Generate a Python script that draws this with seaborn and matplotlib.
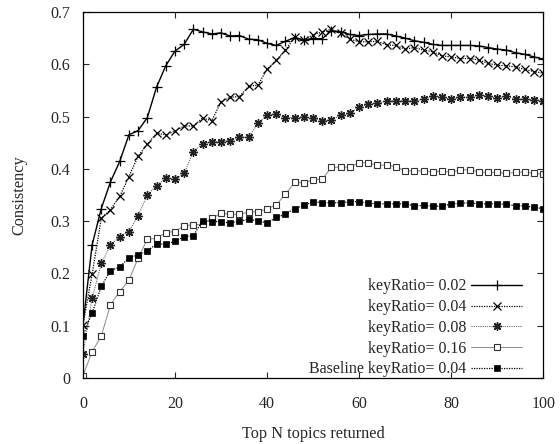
import pandas as pd
import seaborn as sns
import matplotlib
matplotlib.use("Agg")
import matplotlib.pyplot as plt

# Top N topics returned
top_n = [0, 2, 4, 6, 8, 10, 12, 14, 16, 18, 20, 22, 24, 26, 28, 30, 32, 34, 36, 38,
         40, 42, 44, 46, 48, 50, 52, 54, 56, 58, 60, 62, 64, 66, 68, 70, 72, 74, 76, 78,
         80, 82, 84, 86, 88, 90, 92, 94, 96, 98, 100]

ratio_002 = [0.100, 0.254, 0.324, 0.375, 0.414, 0.465, 0.473, 0.498, 0.556, 0.597,
             0.625, 0.638, 0.667, 0.662, 0.658, 0.660, 0.654, 0.655, 0.648, 0.647,
             0.640, 0.636, 0.644, 0.651, 0.646, 0.649, 0.649, 0.664, 0.662, 0.657,
             0.655, 0.657, 0.658, 0.658, 0.654, 0.650, 0.645, 0.642, 0.638, 0.636,
             0.636, 0.636, 0.636, 0.635, 0.632, 0.629, 0.627, 0.622, 0.619, 0.614, 0.610]

ratio_004 = [0.101, 0.198, 0.305, 0.322, 0.347, 0.385, 0.424, 0.447, 0.468, 0.465,
             0.472, 0.482, 0.482, 0.497, 0.492, 0.528, 0.537, 0.538, 0.558, 0.560,
             0.590, 0.608, 0.627, 0.652, 0.646, 0.656, 0.662, 0.667, 0.659, 0.648,
             0.643, 0.643, 0.644, 0.637, 0.636, 0.629, 0.632, 0.627, 0.624, 0.616,
             0.614, 0.611, 0.611, 0.608, 0.602, 0.598, 0.597, 0.595, 0.590, 0.586, 0.583]

ratio_008 = [0.046, 0.152, 0.219, 0.254, 0.270, 0.280, 0.310, 0.350, 0.368, 0.382,
             0.380, 0.391, 0.433, 0.447, 0.452, 0.452, 0.454, 0.461, 0.460, 0.487,
             0.503, 0.504, 0.498, 0.498, 0.499, 0.497, 0.492, 0.493, 0.503, 0.506,
             0.518, 0.524, 0.525, 0.530, 0.530, 0.530, 0.530, 0.533, 0.539, 0.537,
             0.533, 0.537, 0.537, 0.541, 0.539, 0.535, 0.539, 0.533, 0.533, 0.532, 0.530]

ratio_016 = [0.004, 0.050, 0.080, 0.140, 0.165, 0.187, 0.229, 0.265, 0.267, 0.278,
             0.280, 0.291, 0.293, 0.294, 0.305, 0.315, 0.313, 0.313, 0.317, 0.318,
             0.323, 0.331, 0.351, 0.374, 0.373, 0.379, 0.380, 0.403, 0.403, 0.403,
             0.412, 0.411, 0.407, 0.407, 0.404, 0.396, 0.396, 0.396, 0.394, 0.396,
             0.393, 0.398, 0.398, 0.394, 0.393, 0.393, 0.391, 0.393, 0.394, 0.391, 0.390]

baseline_004 = [0.080, 0.124, 0.175, 0.205, 0.212, 0.230, 0.235, 0.243, 0.256, 0.256,
                0.261, 0.270, 0.272, 0.301, 0.299, 0.299, 0.296, 0.300, 0.303, 0.301,
                0.296, 0.307, 0.313, 0.324, 0.330, 0.337, 0.335, 0.335, 0.335, 0.337,
                0.337, 0.334, 0.333, 0.333, 0.333, 0.333, 0.329, 0.330, 0.329, 0.328,
                0.333, 0.334, 0.335, 0.333, 0.333, 0.333, 0.332, 0.329, 0.329, 0.326, 0.324]

labels = ["keyRatio= 0.02", "keyRatio= 0.04", "keyRatio= 0.08",
          "keyRatio= 0.16", "Baseline keyRatio= 0.04"]

x_ticks = [0, 20, 40, 60, 80, 100]
y_ticks = [0, 0.1, 0.2, 0.3, 0.4, 0.5, 0.6, 0.7]
y_tick_labels = ["0", "0.1", "0.2", "0.3", "0.4", "0.5", "0.6", "0.7"]

sns.set_style("ticks")
plt.rcParams["font.family"] = ["Liberation Serif", "DejaVu Serif"]

fig = plt.figure(figsize=(5.6, 4.44), dpi=100)
ax = fig.add_axes([0.148, 0.149, 0.822, 0.824])

# gnuplot-like styles for each series
styles = [
    dict(color="black", linestyle="-", marker="+", ms=6.5, mew=0.9, mec="black", lw=1.0),
    dict(color="black", linestyle=(0, (1, 1)), marker="x", ms=5.2, mew=0.9,
         mec="black", lw=0.9),
    dict(color="#666666", linestyle=(0, (1, 1)), marker=(8, 2, 0), ms=6.2, mew=1.0,
         mec="#222222", lw=0.8),
    dict(color="#888888", linestyle="-", marker="s", ms=5, mew=0.8, mfc="white",
         mec="#333333", lw=0.7),
    dict(color="black", linestyle=(0, (1, 1)), marker="s", ms=5, mew=0.5,
         mec="black", lw=0.9),
]

series = [ratio_002, ratio_004, ratio_008, ratio_016, baseline_004]
for vals, lab, st in zip(series, labels, styles):
    df = pd.DataFrame({"N": top_n, "c": vals})
    sns.lineplot(data=df, x="N", y="c", ax=ax, label=lab, **st)

ax.set_xlim(0, 100)
ax.set_ylim(0, 0.7)
ax.set_xticks(x_ticks)
ax.set_yticks(y_ticks)
ax.set_yticklabels(y_tick_labels)
ax.tick_params(direction="in", top=True, right=True, length=4, width=0.8,
               labelsize=11.5)
ax.tick_params(axis="x", pad=13)
ax.tick_params(axis="y", pad=9)
for sp in ax.spines.values():
    sp.set_linewidth(0.9)
    sp.set_color("black")

ax.set_xlabel("Top N topics returned", fontsize=11.7, labelpad=10)
ax.set_ylabel("Consistency", fontsize=11.7, labelpad=17)

leg = ax.legend(loc="lower right", frameon=False, markerfirst=False, fontsize=11.5,
                handlelength=3.2, handletextpad=0.3, labelspacing=0.3,
                borderaxespad=0.0, borderpad=0.0, bbox_to_anchor=(0.955, 0.001))

fig.savefig("out.png", dpi=100)
